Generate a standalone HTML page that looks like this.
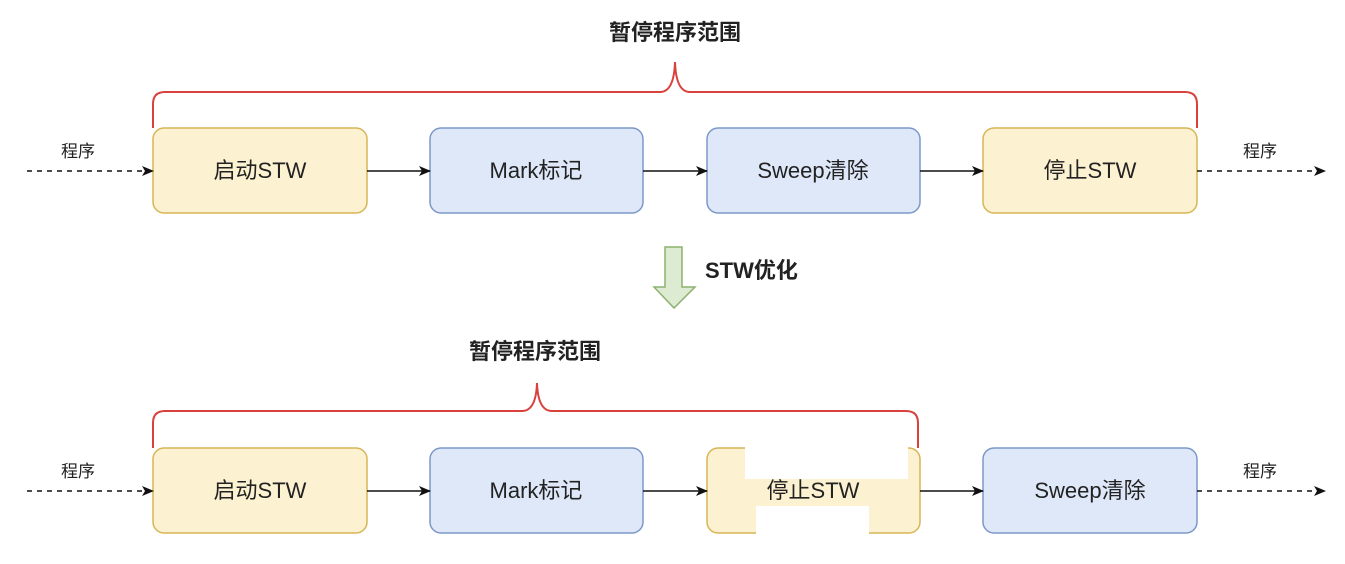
<!DOCTYPE html>
<html><head><meta charset="utf-8"><style>
html,body{margin:0;padding:0;background:#fff;}
text{font-family:"Liberation Sans","Noto Sans CJK SC",sans-serif;fill:#222;}
</style></head><body>
<svg width="1345" height="559" viewBox="0 0 1345 559" xmlns="http://www.w3.org/2000/svg">
<defs>
<marker id="ah" markerWidth="12" markerHeight="10" refX="11" refY="5" orient="auto" markerUnits="userSpaceOnUse">
<path d="M0,0 L12,5 L0,10 L3,5 Z" fill="#111"/></marker>
</defs>
<g font-size="22" font-weight="bold" text-anchor="middle">
<text x="675" y="40">暂停程序范围</text>
<text x="535" y="359">暂停程序范围</text>
</g>
<!-- braces -->
<path d="M153,128 V104 Q153,92 165,92 H660 Q674,92 675,62 Q676,92 690,92 H1185 Q1197,92 1197,104 V128" fill="none" stroke="#d9423c" stroke-width="2"/>
<path d="M153,448 V423 Q153,411 165,411 H522 Q536,411 537,383 Q538,411 552,411 H906 Q918,411 918,423 V448" fill="none" stroke="#d9423c" stroke-width="2"/>
<!-- top row -->
<g stroke-width="1.5">
<rect x="153" y="128" width="214" height="85" rx="11" fill="#fcf1d0" stroke="#d6b656"/>
<rect x="430" y="128" width="213" height="85" rx="11" fill="#dfe8f8" stroke="#7d98c8"/>
<rect x="707" y="128" width="213" height="85" rx="11" fill="#dfe8f8" stroke="#7d98c8"/>
<rect x="983" y="128" width="214" height="85" rx="11" fill="#fcf1d0" stroke="#d6b656"/>
<rect x="153" y="448" width="214" height="85" rx="11" fill="#fcf1d0" stroke="#d6b656"/>
<rect x="430" y="448" width="213" height="85" rx="11" fill="#dfe8f8" stroke="#7d98c8"/>
<rect x="707" y="448" width="213" height="85" rx="11" fill="#fcf1d0" stroke="#d6b656"/>
<rect x="983" y="448" width="214" height="85" rx="11" fill="#dfe8f8" stroke="#7d98c8"/>
</g>
<g stroke="#111" stroke-width="1.6" fill="none">
<line x1="27" y1="171" x2="153" y2="171" stroke-dasharray="5,5" marker-end="url(#ah)"/>
<line x1="367" y1="171" x2="430" y2="171" marker-end="url(#ah)"/>
<line x1="643" y1="171" x2="707" y2="171" marker-end="url(#ah)"/>
<line x1="920" y1="171" x2="983" y2="171" marker-end="url(#ah)"/>
<line x1="1197" y1="171" x2="1325" y2="171" stroke-dasharray="5,5" marker-end="url(#ah)"/>
<line x1="27" y1="491" x2="153" y2="491" stroke-dasharray="5,5" marker-end="url(#ah)"/>
<line x1="367" y1="491" x2="430" y2="491" marker-end="url(#ah)"/>
<line x1="643" y1="491" x2="707" y2="491" marker-end="url(#ah)"/>
<line x1="920" y1="491" x2="983" y2="491" marker-end="url(#ah)"/>
<line x1="1197" y1="491" x2="1325" y2="491" stroke-dasharray="5,5" marker-end="url(#ah)"/>
</g>
<g font-size="22" text-anchor="middle">
<text x="260" y="178">启动STW</text>
<text x="536" y="178">Mark标记</text>
<text x="813" y="178">Sweep清除</text>
<text x="1090" y="178">停止STW</text>
<text x="260" y="498">启动STW</text>
<text x="536" y="498">Mark标记</text>
<text x="813" y="498">停止STW</text>
<text x="1090" y="498">Sweep清除</text>
</g>
<g font-size="17" text-anchor="middle">
<text x="78" y="157">程序</text>
<text x="1260" y="157">程序</text>
<text x="78" y="477">程序</text>
<text x="1260" y="477">程序</text>
</g>
<!-- white overlays -->
<rect x="745" y="447" width="163" height="32" fill="#fff"/>
<rect x="756" y="506" width="113" height="34" fill="#fff"/>
<!-- green arrow -->
<path d="M665,247 H682 V287 H695 L674,308 L654,287 H665 Z" fill="#dcebd2" stroke="#8cb26f" stroke-width="1.5"/>
<text x="705" y="278" font-size="22" font-weight="bold">STW优化</text>
</svg>
</body></html>
